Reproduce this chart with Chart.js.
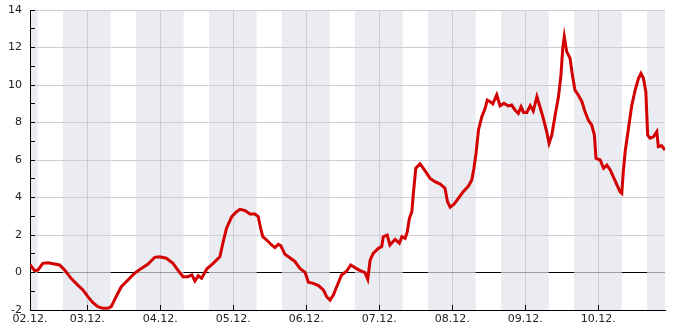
<!DOCTYPE html>
<html>
<head>
<meta charset="utf-8">
<script src="https://cdn.jsdelivr.net/npm/chart.js@4/dist/chart.umd.min.js"></script>
<style>
  html, body { margin: 0; padding: 0; background: #fff; }
  #wrap { width: 685px; height: 330px; }
</style>
</head>
<body>
<div id="wrap"><canvas id="tempCanvas" width="685" height="330"></canvas></div>
<script>
// hours counted from 02.12. 00:00
var hours = [5.2, 6.7, 7.8, 9.4, 11.1, 13.3, 14.9, 16.6, 18.7, 20.9, 22.6, 24.2, 25.9, 27.5, 29.2, 30.8,
  31.9, 33.5, 35.2, 37.4, 39.6, 41.8, 44.0, 46.2, 47.8, 50.0, 52.2, 53.8, 55.5, 57.1, 58.4, 59.4,
  60.5, 61.6, 63.3, 65.4, 67.6, 68.7, 69.8, 71.5, 73.1, 74.2, 75.9, 77.5, 79.1, 80.2, 81.0, 81.7,
  83.0, 84.6, 85.7, 86.8, 87.6, 89.0, 90.6, 92.3, 93.9, 95.6, 96.7, 98.3, 100.0, 101.6, 102.7, 103.8,
  104.9, 106.0, 107.6, 109.3, 110.6, 112.0, 113.7, 115.3, 116.2, 117.0, 118.0, 119.7, 120.8, 121.3,
  122.6, 123.5, 125.2, 126.6, 127.4, 128.5, 129.2, 129.9, 130.7, 131.2, 132.0, 133.4, 135.0, 136.7,
  138.3, 140.0, 141.6, 142.4, 143.3, 144.6, 146.0, 147.6, 149.3, 150.4, 151.1, 151.8, 152.6, 153.7,
  154.8, 155.5, 156.4, 157.3, 158.6, 159.7, 161.0, 162.4, 163.5, 164.6, 165.7, 166.6, 167.4, 168.5,
  169.6, 170.6, 171.8, 172.8, 173.9, 175.0, 175.8, 176.7, 177.8, 178.9, 179.7, 180.3, 180.8, 181.6,
  182.7, 183.3, 184.3, 185.4, 186.6, 187.6, 188.7, 189.8, 190.7, 191.2, 192.6, 193.7, 194.8, 195.9,
  196.9, 198.1, 199.1, 199.7, 200.2, 200.8, 201.9, 203.0, 204.1, 205.2, 206.0, 206.8, 207.6, 208.2,
  209.0, 210.1, 211.2, 211.7, 212.8, 213.9];
var temps = [0.42, 0.1, 0.13, 0.49, 0.52, 0.45, 0.4, 0.13, -0.31, -0.67, -0.93, -1.29, -1.61, -1.82, -1.91, -1.91,
  -1.82, -1.29, -0.76, -0.4, -0.04, 0.22, 0.45, 0.81, 0.84, 0.76, 0.49, 0.13, -0.22, -0.22, -0.13, -0.45,
  -0.17, -0.31, 0.19, 0.49, 0.84, 1.64, 2.36, 2.98, 3.24, 3.37, 3.3, 3.12, 3.12, 2.98, 2.36, 1.91,
  1.73, 1.47, 1.33, 1.5, 1.43, 0.97, 0.79, 0.58, 0.22, 0.01, -0.52, -0.58, -0.7, -0.93, -1.29, -1.47,
  -1.2, -0.76, -0.13, 0.08, 0.4, 0.26, 0.1, -0.01, -0.36, 0.67, 1.02, 1.29, 1.38, 1.91,
  2.0, 1.47, 1.77, 1.56, 1.91, 1.82, 2.18, 2.89, 3.24, 4.22, 5.56, 5.79, 5.43, 5.02,
  4.84, 4.72, 4.49, 3.78, 3.48, 3.65, 3.96, 4.31, 4.61, 4.93, 5.56, 6.36, 7.6, 8.31,
  8.76, 9.2, 9.11, 8.99, 9.47, 8.88, 9.02, 8.88, 8.93, 8.67, 8.49, 8.84, 8.54, 8.54,
  8.9, 8.61, 9.38, 8.84, 8.22, 7.51, 6.89, 7.33, 8.4, 9.38, 10.53, 11.96, 12.58, 11.78,
  11.42, 10.71, 9.73, 9.47, 9.11, 8.58, 8.13, 7.87, 7.33, 6.09, 6.0, 5.56, 5.73, 5.47,
  5.11, 4.67, 4.31, 4.22, 5.38, 6.44, 7.69, 8.93, 9.73, 10.36, 10.62, 10.36, 9.64, 7.33,
  7.16, 7.24, 7.51, 6.71, 6.76, 6.53];

var startLabel = "02.12.";
var dayHours = [24, 48, 72, 96, 120, 144, 168, 192];
var dayLabels = ["03.12.", "04.12.", "05.12.", "06.12.", "07.12.", "08.12.", "09.12.", "10.12."];
// night periods (shaded), in hours
var nightStart = [-8, 16, 40, 64, 88, 112, 136, 160, 184, 208];
var nightEnd = [7.7, 31.7, 55.7, 79.7, 103.7, 127.7, 151.7, 175.7, 199.7, 223.7];

var xMin = 5.2, xMax = 213.9;
var gridColor = '#cdcdd3';
var bandColor = '#ebecf2';

Chart.defaults.font.family = 'DejaVu Sans';
Chart.defaults.font.size = 11;
Chart.defaults.color = '#222';

// same pixel snapping as chart.js uses for 1px lines
function snap(p) { return Math.round(p - 0.5) + 0.5; }

var nightPlugin = {
  id: 'nights',
  beforeDraw: function(chart) {
    var ctx = chart.ctx, a = chart.chartArea, xs = chart.scales.x;
    ctx.save();
    ctx.fillStyle = '#fff';
    ctx.fillRect(0, 0, chart.width, chart.height);
    ctx.fillStyle = bandColor;
    for (var i = 0; i < nightStart.length; i++) {
      var x1 = Math.max(xs.getPixelForValue(nightStart[i]), a.left);
      var x2 = Math.min(xs.getPixelForValue(nightEnd[i]), a.right);
      if (x2 > x1) ctx.fillRect(x1, a.top, x2 - x1, a.bottom - a.top);
    }
    ctx.restore();
  },
  beforeDatasetsDraw: function(chart) {
    // zero line is grey inside the night bands
    var ctx = chart.ctx, a = chart.chartArea, xs = chart.scales.x;
    var y0 = snap(chart.scales.y.getPixelForValue(0));
    ctx.save();
    ctx.strokeStyle = '#9c9ca0';
    ctx.lineWidth = 1;
    for (var i = 0; i < nightStart.length; i++) {
      var x1 = Math.max(xs.getPixelForValue(nightStart[i]), a.left + 1);
      var x2 = Math.min(xs.getPixelForValue(nightEnd[i]), a.right);
      if (x2 > x1) {
        ctx.beginPath();
        ctx.moveTo(x1, y0);
        ctx.lineTo(x2, y0);
        ctx.stroke();
      }
    }
    ctx.restore();
  },
  afterDraw: function(chart) {
    // small tick marks pointing into the plot
    var ctx = chart.ctx, a = chart.chartArea;
    var xs = chart.scales.x, ys = chart.scales.y;
    ctx.save();
    ctx.strokeStyle = '#000';
    ctx.lineWidth = 1;
    ctx.beginPath();
    for (var v = -1; v <= 14; v++) {
      var y = snap(ys.getPixelForValue(v));
      ctx.moveTo(a.left, y);
      ctx.lineTo(a.left + 5, y);
    }
    dayHours.forEach(function(h) {
      var x = snap(xs.getPixelForValue(h));
      ctx.moveTo(x, a.bottom);
      ctx.lineTo(x, a.bottom - 5);
    });
    ctx.stroke();
    ctx.restore();
  }
};

var points = hours.map(function(h, i) { return { x: h, y: temps[i] }; });

var config = {
  type: 'line',
  data: {
    datasets: [{
      data: points,
      borderColor: '#d20000',
      borderWidth: 3,
      pointRadius: 0,
      tension: 0,
      fill: false
    }]
  },
  options: {
    responsive: false,
    animation: false,
    layout: { padding: { left: 0, right: 20, top: 10, bottom: 0 } },
    plugins: {
      legend: { display: false },
      tooltip: { enabled: false }
    },
    scales: {
      x: {
        type: 'linear',
        min: xMin,
        max: xMax,
        afterBuildTicks: function(scale) {
          var t = [{ value: xMin }];
          dayHours.forEach(function(h) { t.push({ value: h }); });
          scale.ticks = t;
        },
        afterFit: function(scale) {
          scale.height = 20;
          scale.paddingLeft = 0;
          scale.paddingRight = 0;
        },
        ticks: {
          autoSkip: false,
          maxRotation: 0,
          padding: 3,
          callback: function(value) {
            if (value === xMin) return startLabel;
            var i = dayHours.indexOf(value);
            return i >= 0 ? dayLabels[i] : '';
          }
        },
        grid: {
          drawTicks: false,
          color: function(c) { return c.index === 0 ? 'rgba(0,0,0,0)' : gridColor; }
        },
        border: { color: '#000', width: 1 }
      },
      y: {
        min: -2,
        max: 14,
        afterFit: function(scale) {
          scale.width = 30;
          scale.paddingTop = 0;
          scale.paddingBottom = 0;
        },
        ticks: {
          stepSize: 1,
          autoSkip: false,
          padding: 8,
          callback: function(value) { return value % 2 === 0 ? value : ''; }
        },
        grid: {
          drawTicks: false,
          color: function(c) {
            var v = c.tick.value;
            if (v === 0) return '#000';
            return v % 2 === 0 ? gridColor : 'rgba(0,0,0,0)';
          }
        },
        border: { color: '#000', width: 1 }
      }
    }
  },
  plugins: [nightPlugin]
};

var tempChart = new Chart(document.getElementById('tempCanvas'), config);
</script>
</body>
</html>
